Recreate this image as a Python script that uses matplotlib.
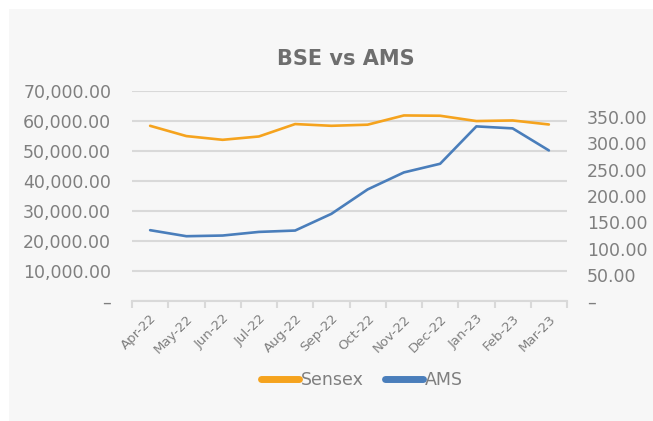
import matplotlib
matplotlib.use("Agg")
import matplotlib.pyplot as plt
from matplotlib.ticker import FuncFormatter

# ----------------------------------------------------------------------------
# Data
# ----------------------------------------------------------------------------
months = ["Apr-22", "May-22", "Jun-22", "Jul-22", "Aug-22", "Sep-22",
          "Oct-22", "Nov-22", "Dec-22", "Jan-23", "Feb-23", "Mar-23"]
sensex = [58400, 54970, 53730, 54840, 58980, 58400,
          58770, 61850, 61750, 59980, 60180, 58840]
ams = [134.9, 123.4, 124.7, 131.6, 134.2, 166.0,
       212.5, 244.9, 261.4, 332.6, 328.8, 286.8]

left_ticks = [0, 10000, 20000, 30000, 40000, 50000, 60000, 70000]
right_ticks = [0, 50, 100, 150, 200, 250, 300, 350]

# ----------------------------------------------------------------------------
# Style
# ----------------------------------------------------------------------------
orange = "#F5A31E"
blue = "#4A7EBB"
text_grey = "#7F7F7F"
title_grey = "#6E6E6E"
grid_grey = "#D9D9D9"
bg = "#F7F7F7"

plt.rcParams["font.family"] = ["DejaVu Sans"]

fig = plt.figure(figsize=(6.53, 4.21), dpi=100)
fig.patch.set_facecolor("white")

# chart area background (slightly inset from top-left)
bgax = fig.add_axes([0, 0, 1, 1], zorder=-10)
bgax.axis("off")
bgax.add_patch(plt.Rectangle((9 / 653, 0), 1, 1 - 9 / 421,
                             transform=bgax.transAxes,
                             facecolor=bg, edgecolor="none"))

ax = fig.add_axes([132 / 653, 1 - 301 / 421, 435 / 653, 210 / 421])
ax.set_facecolor("none")
ax2 = ax.twinx()

x = list(range(len(months)))
ax.plot(x, sensex, color=orange, linewidth=1.9, solid_capstyle="round",
        label="Sensex", zorder=3)
ax2.plot(x, ams, color=blue, linewidth=1.9, solid_capstyle="round",
         label="AMS", zorder=3)

ax.set_xlim(-0.5, len(months) - 0.5)
ax.set_ylim(0, 70000)
ax2.set_ylim(0, 400)


def fmt_num(v, pos):
    return "–" if v == 0 else f"{v:,.2f}"


ax.set_yticks(left_ticks)
ax.yaxis.set_major_formatter(FuncFormatter(fmt_num))
ax2.set_yticks(right_ticks)
ax2.yaxis.set_major_formatter(FuncFormatter(fmt_num))

ax.grid(axis="y", color=grid_grey, linewidth=1.5)
ax.set_axisbelow(True)

# category ticks on boundaries, labels on centers
ax.set_xticks([i - 0.5 for i in range(len(months) + 1)])
ax.set_xticklabels([])
ax.set_xticks(x, minor=True)
ax.set_xticklabels(months, minor=True, rotation=45, ha="right",
                   rotation_mode="anchor", fontsize=9.5, color=text_grey)
ax.tick_params(axis="x", which="major", length=5, color=grid_grey, width=1.5)
ax.tick_params(axis="x", which="minor", length=0, pad=8)

for a in (ax, ax2):
    for s in a.spines.values():
        s.set_visible(False)
ax.spines["bottom"].set_visible(True)
ax.spines["bottom"].set_color(grid_grey)
ax.spines["bottom"].set_linewidth(1.5)

ax.tick_params(axis="y", length=0, labelsize=12.5, labelcolor=text_grey, pad=15)
ax2.tick_params(axis="y", length=0, labelsize=12.5, labelcolor=text_grey, pad=14.5)
ax2.tick_params(axis="x", length=0)

fig.text(346 / 653, 1 - 59 / 421, "BSE vs AMS", ha="center", va="center",
         fontsize=15, fontweight="bold", color=title_grey)

h1, l1 = ax.get_legend_handles_labels()
h2, l2 = ax2.get_legend_handles_labels()
leg = fig.legend(h1 + h2, l1 + l2, loc="center",
                 bbox_to_anchor=(362 / 653, 1 - 380 / 421), ncol=2,
                 frameon=False, fontsize=12.5, handlelength=2.2,
                 handletextpad=0.1, columnspacing=1.2, labelcolor=text_grey)
for line in leg.get_lines():
    line.set_linewidth(5)
    line.set_solid_capstyle("round")

fig.savefig("out.png", dpi=100, facecolor=fig.get_facecolor())
